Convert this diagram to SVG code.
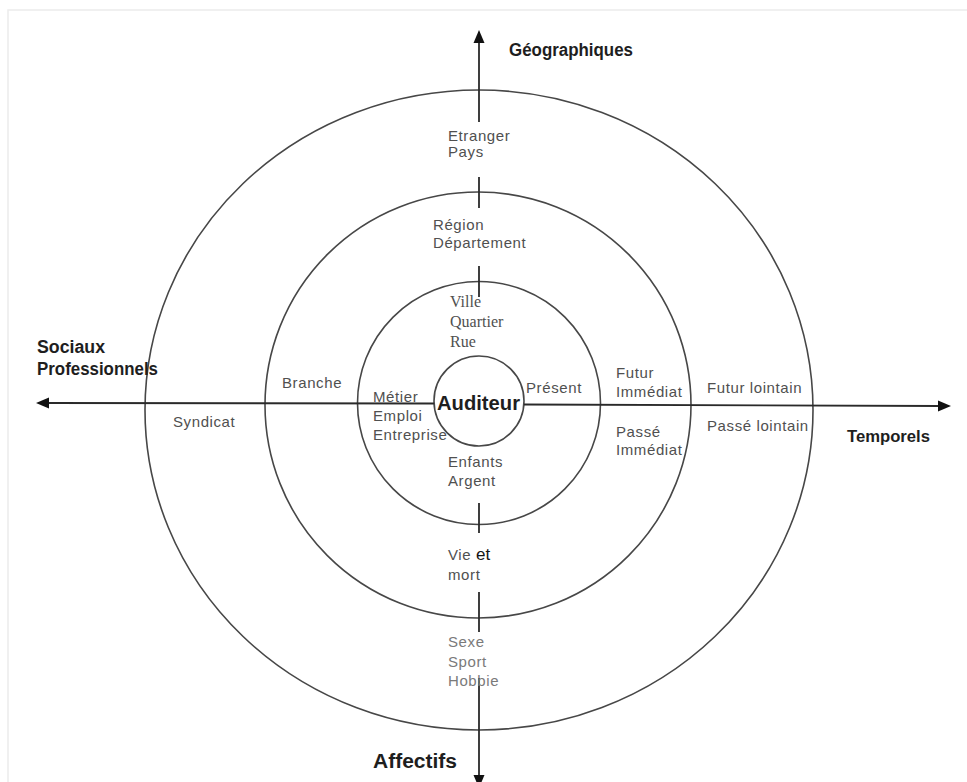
<svg xmlns="http://www.w3.org/2000/svg" width="967" height="782" viewBox="0 0 967 782">
<style>
.ring{fill:none;stroke:#474747;stroke-width:1.6}
.axis{stroke:#2a2a2a;stroke-width:1.8;fill:none}
.lbl{font-family:"Liberation Sans",Arial,sans-serif;font-size:15px;fill:#505050;letter-spacing:0.6px}
.lbl2{font-family:"Liberation Sans",Arial,sans-serif;font-size:15px;fill:#7a7a7a;letter-spacing:0.6px}
.ser{font-family:"Liberation Serif","Times New Roman",serif;font-size:16px;fill:#505050}
.bold{font-family:"Liberation Sans",Arial,sans-serif;font-weight:bold;fill:#1e1e1e}
.head{fill:#111}
</style>
<rect width="967" height="782" fill="#fff"/>
<path d="M8 782 V10 H967" fill="none" stroke="#ececec" stroke-width="1.5"/>
<g id="rings">
<ellipse id="ring4" class="ring" cx="479" cy="410" rx="334" ry="320"/>
<circle id="ring3" class="ring" cx="478" cy="405" r="213"/>
<circle id="ring2" class="ring" cx="479" cy="403" r="121.5"/>
<circle id="ring1" class="ring" cx="479" cy="401" r="45"/>
</g>
<g id="connectors">
<line class="axis" x1="479" y1="40" x2="479" y2="122"/>
<line class="axis" x1="479" y1="177" x2="479" y2="208"/>
<line class="axis" x1="479" y1="266" x2="479" y2="297"/>
<line class="axis" x1="479" y1="503" x2="479" y2="533"/>
<line class="axis" x1="479" y1="592" x2="479" y2="632"/>
<line class="axis" x1="479" y1="678" x2="479" y2="776"/>
<line class="axis" x1="47" y1="403" x2="434" y2="403.5"/>
<line class="axis" x1="524" y1="404.5" x2="940" y2="406"/>
<polygon class="head" points="479,30 473.5,43 484.5,43"/>
<polygon class="head" points="479,788 473.5,775 484.5,775"/>
<polygon class="head" points="36,403 49,397.5 49,408.5"/>
<polygon class="head" points="951,406 938,400.5 938,411.5"/>
</g>
<g id="axis-labels">
<text class="bold" x="509" y="56" font-size="18" textLength="124" lengthAdjust="spacingAndGlyphs">Géographiques</text>
<text class="bold" x="37" y="353" font-size="18" textLength="68" lengthAdjust="spacingAndGlyphs">Sociaux</text>
<text class="bold" x="37" y="375" font-size="18" textLength="121" lengthAdjust="spacingAndGlyphs">Professionnels</text>
<text class="bold" x="847" y="442" font-size="16.5" textLength="83" lengthAdjust="spacingAndGlyphs">Temporels</text>
<text class="bold" x="373" y="768" font-size="20" textLength="84" lengthAdjust="spacingAndGlyphs">Affectifs</text>
</g>
<g id="center">
<text class="bold" x="437" y="410" font-size="19.5" fill="#000" textLength="83" lengthAdjust="spacingAndGlyphs">Auditeur</text>
</g>
<g id="geographiques">
<text class="lbl" x="448" y="141">Etranger</text>
<text class="lbl" x="448" y="157">Pays</text>
<text class="lbl" x="433" y="230">Région</text>
<text class="lbl" x="433" y="248">Département</text>
<text class="ser" x="450" y="307">Ville</text>
<text class="ser" x="450" y="327">Quartier</text>
<text class="ser" x="450" y="347">Rue</text>
</g>
<g id="sociaux">
<text class="lbl" x="282" y="388">Branche</text>
<text class="lbl" x="173" y="427">Syndicat</text>
<text class="lbl" x="373" y="402">Métier</text>
<text class="lbl" x="373" y="421">Emploi</text>
<text class="lbl" x="373" y="440">Entreprise</text>
</g>
<g id="temporels">
<text class="lbl" x="526" y="393">Présent</text>
<text class="lbl" x="616" y="378">Futur</text>
<text class="lbl" x="616" y="397">Immédiat</text>
<text class="lbl" x="616" y="437">Passé</text>
<text class="lbl" x="616" y="455">Immédiat</text>
<text class="lbl" x="707" y="393">Futur lointain</text>
<text class="lbl" x="707" y="431">Passé lointain</text>
</g>
<g id="affectifs">
<text class="lbl" x="448" y="467">Enfants</text>
<text class="lbl" x="448" y="486">Argent</text>
<text class="lbl" x="448" y="560">Vie <tspan font-size="17" fill="#151515" letter-spacing="0">et</tspan></text>
<text class="lbl" x="448" y="580">mort</text>
<text class="lbl2" x="448" y="647">Sexe</text>
<text class="lbl2" x="448" y="667">Sport</text>
<text class="lbl2" x="448" y="686">Hobbie</text>
</g>
</svg>
